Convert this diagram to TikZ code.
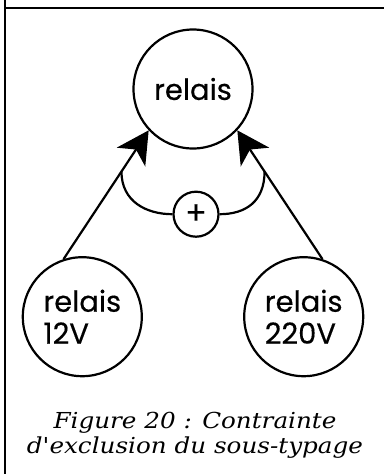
\documentclass[tikz,border=0pt]{standalone}
\usepackage{fontspec}
\newfontfamily\nodefont[FakeBold=0.35]{Poppins}
\newfontfamily\capfont[FakeStretch=1.12]{DejaVu Serif}
\usetikzlibrary{arrows.meta,positioning}

\begin{document}
\begin{tikzpicture}[
  x=1pt, y=1pt,
  node distance=1cm,
  class/.style={draw, circle, line width=2.2pt, minimum size=119pt, inner sep=0pt,
    align=left, font=\nodefont\fontsize{29}{32}\selectfont},
  excl/.style={draw, circle, line width=2.2pt, minimum size=45pt, inner sep=0pt,
    font=\nodefont\fontsize{32}{32}\selectfont},
  arr/.style={-{Stealth[length=32pt, width=34pt, inset=9pt]}, line width=2.2pt},
  link/.style={line width=2.2pt},
  frame/.style={line width=2pt},
  caption/.style={inner sep=0pt, align=center,
    font=\capfont\itshape\fontsize{22}{25}\selectfont}
]
  \useasboundingbox (0,0) rectangle (384,-474);
  \draw[frame] (5,0) -- (5,-474);
  \draw[frame] (5,-8) -- (384,-8);

  \node[class] (relais) at (193,-89) {relais};
  \node[class, below left=142pt and 25pt of relais] (r12) {relais\\12V};
  \node[class, below right=142pt and 25pt of relais] (r220) {relais\\220V};
  \node[excl, below=41pt of relais, xshift=3pt] (plus) {+};

  \draw[arr] (r12.108) -- coordinate[pos=0.68] (jl) (relais.223);
  \draw[arr] (r220.72) -- coordinate[pos=0.68] (jr) (relais.317);
  % contrainte d'exclusion
  \draw[link] (jl) .. controls +(0,-30) and +(-26,0) .. (plus.west);
  \draw[link] (jr) .. controls +(0,-30) and +(26,0) .. (plus.east);

  \node[caption] (cap) at (195,-435) {Figure 20 : Contrainte\\d'exclusion du sous-typage};
\end{tikzpicture}
\end{document}
